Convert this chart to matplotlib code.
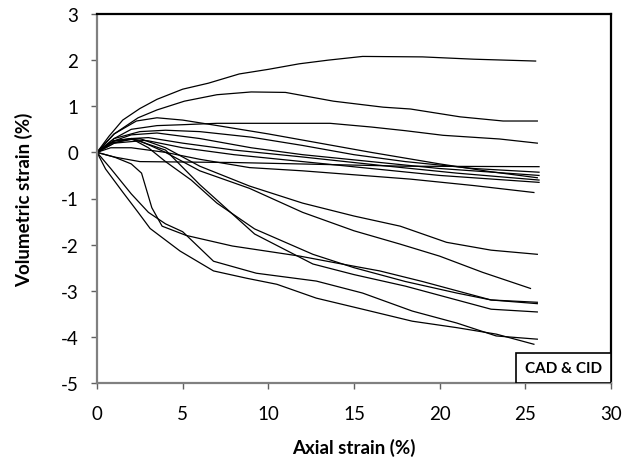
import matplotlib.pyplot as plt
from matplotlib.patches import Rectangle

plt.rcParams['font.family'] = ['Lato', 'DejaVu Sans']
plt.rcParams['axes.unicode_minus'] = False

# curves: axial strain (%) -> volumetric strain (%)
curves = [
    # upper, dilating
    ([0, 0.7, 1.5, 2.5, 3.5, 5, 6.5, 8.3, 10, 11.8, 13.5, 15.5, 19, 22, 25.6],
     [0, 0.35, 0.7, 0.95, 1.15, 1.37, 1.5, 1.7, 1.8, 1.92, 2.0, 2.08, 2.07, 2.02, 1.98]),
    ([0, 1, 2.4, 3.5, 5.1, 7, 9, 11, 13.8, 16.7, 18.3, 21.2, 23.7, 25.7],
     [0, 0.4, 0.75, 0.92, 1.11, 1.25, 1.31, 1.3, 1.11, 0.98, 0.94, 0.77, 0.68, 0.68]),
    ([0, 1, 2, 3.5, 5, 7, 13.6, 16, 18, 20.2, 23.5, 25.7],
     [0, 0.3, 0.5, 0.58, 0.6, 0.63, 0.63, 0.55, 0.47, 0.37, 0.29, 0.2]),
    ([0, 1, 2.3, 3.5, 5, 7.2, 10, 13, 16, 20, 23, 25.7],
     [0, 0.4, 0.68, 0.75, 0.7, 0.57, 0.4, 0.2, 0.0, -0.25, -0.42, -0.55]),
    # middle group
    ([0, 1, 2.5, 8, 13, 18, 25.8],
     [0, -0.1, -0.2, -0.22, -0.26, -0.3, -0.31]),
    ([0, 1, 2.5, 4, 6, 9, 12, 15, 18, 22, 25.8],
     [0, 0.3, 0.45, 0.48, 0.45, 0.33, 0.15, -0.05, -0.2, -0.35, -0.43]),
    ([0, 1, 2, 3.5, 6, 9, 12, 16, 20, 25.8],
     [0, 0.25, 0.38, 0.42, 0.3, 0.1, -0.05, -0.2, -0.35, -0.5]),
    ([0, 1, 2, 3, 5, 8, 12, 17, 21, 25.8],
     [0, 0.2, 0.3, 0.32, 0.2, 0.05, -0.1, -0.3, -0.45, -0.6]),
    ([0, 0.8, 2, 3, 5, 8, 12, 16, 20, 25.8],
     [0, 0.2, 0.28, 0.25, 0.1, -0.05, -0.2, -0.35, -0.5, -0.65]),
    ([0, 0.8, 2, 4, 6, 8.9, 12, 18.3, 22, 25.5],
     [0, 0.1, 0.1, 0.0, -0.15, -0.33, -0.4, -0.58, -0.72, -0.87]),
    # lower, contracting
    ([0, 1, 2.5, 4, 6, 8.9, 12, 15, 17.7, 20.4, 23, 25.7],
     [0, 0.25, 0.3, 0.1, -0.3, -0.73, -1.1, -1.38, -1.6, -1.95, -2.12, -2.21]),
    ([0, 1, 2.5, 4, 6, 8.9, 12, 15, 17.7, 20, 22.5, 25.3],
     [0, 0.2, 0.25, 0.0, -0.4, -0.78, -1.3, -1.7, -1.99, -2.25, -2.6, -2.95]),
    ([0, 1, 2, 3, 4, 5.5, 7, 9.2, 12.6, 15, 18, 21, 23, 25.7],
     [0, 0.25, 0.3, 0.1, -0.2, -0.6, -1.1, -1.66, -2.21, -2.5, -2.8, -3.05, -3.2, -3.25]),
    ([0, 1, 2, 2.6, 3.2, 3.8, 5.2, 7.9, 11.85, 14, 16.5, 19, 21, 23, 25.7],
     [0, -0.1, -0.25, -0.45, -1.2, -1.6, -1.8, -2.03, -2.25, -2.4, -2.57, -2.8, -3.0, -3.2, -3.28]),
    ([0, 1, 2, 4, 6, 9.2, 12.6, 15, 18, 21, 23, 25.7],
     [0, 0.25, 0.3, 0.05, -0.7, -1.77, -2.42, -2.65, -2.9, -3.2, -3.4, -3.46]),
    ([0, 0.8, 2, 3, 4, 5, 6.8, 9.3, 12.8, 15.5, 18.4, 21, 23.3, 25.7],
     [0, -0.35, -0.9, -1.3, -1.55, -1.72, -2.36, -2.62, -2.79, -3.05, -3.44, -3.7, -3.98, -4.05]),
    ([0, 0.5, 1.5, 2.4, 3.1, 4.85, 6.8, 8.75, 10.5, 12.8, 15.5, 18.4, 21, 23.3, 25.5],
     [0, -0.36, -0.86, -1.3, -1.65, -2.14, -2.57, -2.73, -2.86, -3.16, -3.4, -3.66, -3.8, -3.94, -4.16]),
]

x_ticks = [0, 5, 10, 15, 20, 25, 30]
y_ticks = [-5, -4, -3, -2, -1, 0, 1, 2, 3]

fig = plt.figure(figsize=(6.33, 4.64), dpi=100)
ax = fig.add_axes([97 / 633, 80 / 464, 514 / 633, 369 / 464])

for xs, ys in curves:
    ax.plot(xs, ys, color='black', linewidth=0.9)

ax.set_xlim(0, 30)
ax.set_ylim(-5, 3)
ax.set_xticks(x_ticks)
ax.set_yticks(y_ticks)
ax.tick_params(direction='out', length=4.5, width=1, labelsize=13.5,
               colors='#606060', labelcolor='black')
ax.tick_params(axis='x', pad=11)
ax.tick_params(axis='y', pad=9)
for side in ['left', 'bottom']:
    ax.spines[side].set_color('#808080')
    ax.spines[side].set_linewidth(1.6)
for side in ['top', 'right']:
    ax.spines[side].set_color('black')
    ax.spines[side].set_linewidth(1.6)

ax.set_xlabel('Axial strain (%)', fontsize=13.5, fontweight='bold')
ax.set_ylabel('Volumetric strain (%)', fontsize=13.5, fontweight='bold')
ax.xaxis.set_label_coords(0.5, -0.15)
ax.yaxis.set_label_coords(-0.125, 0.5)

# label box in lower right corner
ax.add_patch(Rectangle((0.815, 0), 0.185, 0.081, transform=ax.transAxes,
                       facecolor='white', edgecolor='black', linewidth=1.2, zorder=5))
ax.text(0.9075, 0.04, 'CAD & CID', transform=ax.transAxes, ha='center', va='center',
        fontsize=11, fontweight='bold', zorder=6)

fig.savefig('out.png', dpi=100)
